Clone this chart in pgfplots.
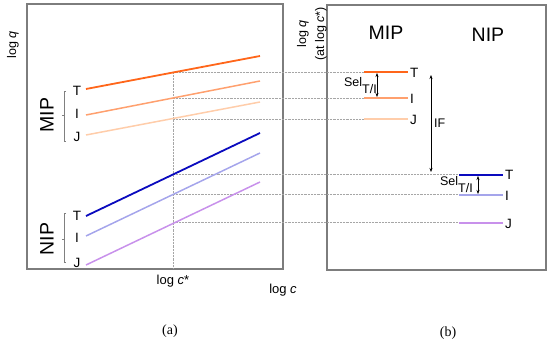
\documentclass[border=0pt]{standalone}
\usepackage{pgfplots}
\pgfplotsset{compat=1.18}
\usepackage{fontspec}
\setmainfont{Liberation Sans}
\newfontfamily\serif{Liberation Serif}
\usetikzlibrary{arrows.meta}
\definecolor{mipT}{RGB}{255,102,26}
\definecolor{mipI}{RGB}{255,160,110}
\definecolor{mipJ}{RGB}{255,205,170}
\definecolor{nipT}{RGB}{10,10,190}
\definecolor{nipI}{RGB}{165,165,235}
\definecolor{nipJ}{RGB}{200,145,235}
\definecolor{boxgray}{RGB}{125,125,125}
\begin{document}
\begin{tikzpicture}
\begin{axis}[
  width=550pt, height=347pt, scale only axis,
  xmin=0, xmax=550, ymin=0, ymax=347, y dir=reverse,
  hide axis, clip=false]
\path (axis cs:0,0) rectangle (axis cs:550,347);
% boxes
\draw[boxgray, line width=1.2pt] (axis cs:27,4) rectangle (axis cs:283,269);
\draw[boxgray, line width=1.2pt] (axis cs:327,5) rectangle (axis cs:546,270);
% dotted guides
\draw[gray!70, densely dotted, line width=0.45pt] (axis cs:173,72) -- (axis cs:173,269);
\foreach \yy/\xe in {72/364,98/364,119/364,174/459,194/459,222/459}{
  \edef\tmp{\noexpand\draw[gray!70, densely dotted, line width=0.45pt] (axis cs:173,\yy) -- (axis cs:\xe,\yy);}\tmp
}
% left panel lines
\addplot[mipJ, line width=1.5pt] coordinates {(86,135) (260,102)};
\addplot[mipI, line width=1.5pt] coordinates {(86,115) (260,81)};
\addplot[mipT, line width=1.8pt] coordinates {(86,89) (260,56)};
\addplot[nipJ, line width=1.5pt] coordinates {(86,265) (260,182)};
\addplot[nipI, line width=1.5pt] coordinates {(86,236) (260,153)};
\addplot[nipT, line width=1.8pt] coordinates {(86,216) (260,133)};
% right panel segments
\addplot[mipT, line width=2.5pt] coordinates {(364,72) (408,72)};
\addplot[mipI, line width=2.5pt] coordinates {(364,98) (408,98)};
\addplot[mipJ, line width=2.5pt] coordinates {(364,119) (408,119)};
\addplot[nipT, line width=2.5pt] coordinates {(459,175) (503,175)};
\addplot[nipI, line width=2.5pt] coordinates {(459,195) (503,195)};
\addplot[nipJ, line width=2.5pt] coordinates {(459,223) (503,223)};
% brackets
\draw[gray, line width=0.6pt] (axis cs:66,91) -- (axis cs:64,91) -- (axis cs:64,141) -- (axis cs:66,141);
\draw[gray, line width=0.6pt] (axis cs:64,115) -- (axis cs:62,115);
\draw[gray, line width=0.6pt] (axis cs:66,213) -- (axis cs:64,213) -- (axis cs:64,262) -- (axis cs:66,262);
\draw[gray, line width=0.6pt] (axis cs:64,239) -- (axis cs:62,239);
% arrows
\draw[{Stealth[length=4pt,width=3pt]}-{Stealth[length=4pt,width=3pt]}, line width=0.5pt] (axis cs:377,73) -- (axis cs:377,97);
\draw[{Stealth[length=4pt,width=3pt]}-{Stealth[length=4pt,width=3pt]}, line width=0.5pt] (axis cs:478,176) -- (axis cs:478,194);
\draw[{Stealth[length=4pt,width=3pt]}-{Stealth[length=4pt,width=3pt]}, line width=0.5pt] (axis cs:431,75) -- (axis cs:431,172);
% texts
\node[rotate=90, font=\fontsize{12.5}{14}\selectfont] at (axis cs:13,45) {log \textit{q}};
\node[rotate=90, font=\fontsize{19.5}{22}\selectfont] at (axis cs:47,115) {MIP};
\node[rotate=90, font=\fontsize{19.5}{22}\selectfont] at (axis cs:47,239) {NIP};
\foreach \yy/\lab in {91/T,114/I,137/J,216/T,238/I,263/J}{
  \edef\tmp{\noexpand\node[font=\noexpand\fontsize{13.5}{15}\noexpand\selectfont] at (axis cs:77,\yy) {\lab};}\tmp
}
\foreach \yy/\lab in {73/T,99/I,120/J}{
  \edef\tmp{\noexpand\node[anchor=west, inner sep=0pt, font=\noexpand\fontsize{13.5}{15}\noexpand\selectfont] at (axis cs:410,\yy) {\lab};}\tmp
}
\foreach \yy/\lab in {175/T,196/I,224/J}{
  \edef\tmp{\noexpand\node[anchor=west, inner sep=0pt, font=\noexpand\fontsize{13.5}{15}\noexpand\selectfont] at (axis cs:505,\yy) {\lab};}\tmp
}
\node[font=\fontsize{19.5}{22}\selectfont] at (axis cs:386,33) {MIP};
\node[font=\fontsize{19.5}{22}\selectfont] at (axis cs:488,35) {NIP};
\node[rotate=90, align=center, font=\fontsize{12.5}{18}\selectfont] at (axis cs:312,34) {log \textit{q}\\(at log \textit{c}*)};
\node[anchor=west, inner sep=0pt, font=\fontsize{12.5}{14}\selectfont] at (axis cs:434,123) {IF};
\node[anchor=base east, inner sep=0pt, font=\fontsize{12.5}{14}\selectfont] at (axis cs:377,87) {Sel\raisebox{-7pt}{T/I}};
\node[anchor=base east, inner sep=0pt, font=\fontsize{12.5}{14}\selectfont] at (axis cs:473,186) {Sel\raisebox{-7pt}{T/I}};
\node[font=\fontsize{13}{14}\selectfont] at (axis cs:173,281) {log \textit{c}*};
\node[font=\fontsize{13}{14}\selectfont] at (axis cs:283,290) {log \textit{c}};
\node[font=\serif\fontsize{14}{16}\selectfont] at (axis cs:170,331) {(a)};
\node[font=\serif\fontsize{14}{16}\selectfont] at (axis cs:448,333) {(b)};
\end{axis}
\end{tikzpicture}
\end{document}
